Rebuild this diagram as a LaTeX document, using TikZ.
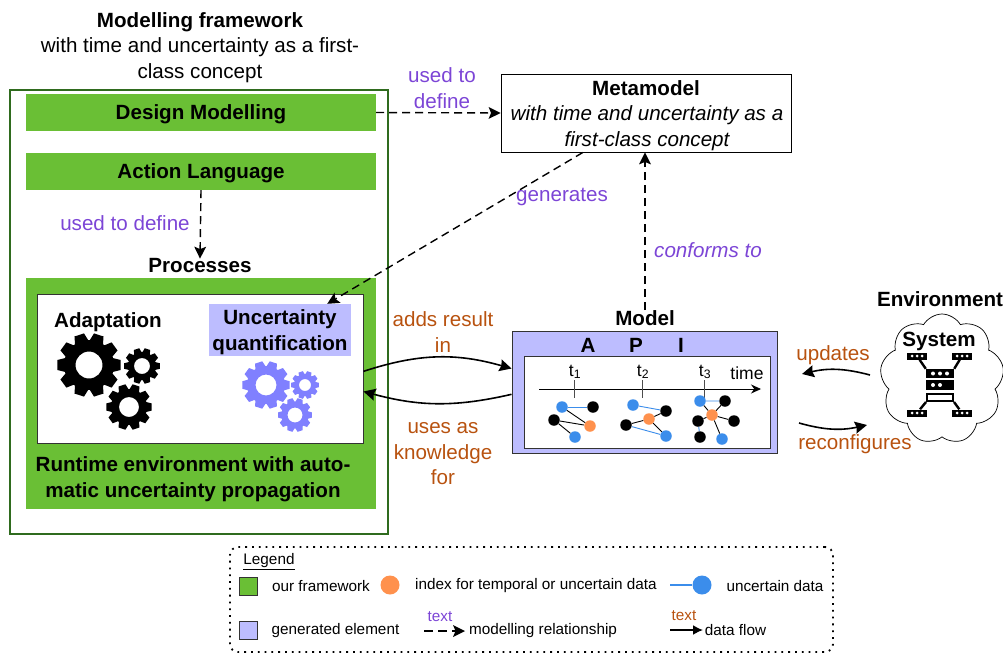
\documentclass[tikz,border=0pt]{standalone}
\usepackage{fontspec}
\setmainfont{Liberation Sans}
\usetikzlibrary{arrows.meta, shapes.symbols}

\definecolor{fwgreen}{HTML}{6ABF35}
\definecolor{fwdark}{HTML}{2F6B1E}
\definecolor{genblue}{HTML}{BDBDFF}
\definecolor{gearblue}{HTML}{8080FF}
\definecolor{relpurple}{HTML}{7C45D6}
\definecolor{flowbrown}{HTML}{B8520F}
\definecolor{indexorange}{HTML}{FF914D}
\definecolor{dotblue}{HTML}{3B8DEB}

% x y outer-radius root-radius hole-radius colour
\newcommand{\gear}[6]{%
    \fill[#6, even odd rule, shift={(#1,#2)}] (-16:#4)
        \foreach \tooth in {0,36,...,324} {
            -- ({\tooth-16}:#4) -- ({\tooth-9}:#3) -- ({\tooth+9}:#3) -- ({\tooth+16}:#4)
        } -- cycle (0,0) circle (#5);
}

\begin{document}
\begin{tikzpicture}[
        x=1pt, y=-1pt,
        txt/.style={font=\fontsize{20.6}{25.5}\selectfont, align=center, inner sep=0pt},
        head/.style={txt, font=\fontsize{20.6}{25.5}\selectfont\bfseries},
        bar/.style={fill=fwgreen, draw=none, inner sep=0pt},
        rel/.style={txt, text=relpurple},
        flowtxt/.style={txt, text=flowbrown},
        legtxt/.style={font=\fontsize{15.3}{17}\selectfont, inner sep=0pt},
        dashrel/.style={line width=1.4pt, dash pattern=on 8pt off 5pt, -{Stealth[inset=2.5pt, length=12pt, width=12pt, line width=0pt, sep=0pt]}},
        flow/.style={line width=1.6pt, -{Stealth[inset=1.5pt, length=12pt, width=12pt]}},
        dot/.style={circle, inner sep=0pt, minimum size=11.5pt},
        black dot/.style={dot, fill=black},
        blue dot/.style={dot, fill=dotblue},
        orange dot/.style={dot, fill=indexorange},
        bline/.style={dotblue, line width=0.9pt},
        kline/.style={black, line width=0.9pt},
        rack/.style={fill=black, draw=none, inner sep=0pt, minimum width=20pt, minimum height=7pt},
        hole/.style={circle, fill=white, inner sep=0pt, minimum size=3pt}
    ]
    \useasboundingbox (0,0) rectangle (1003,653);

    % Modelling framework
    \node[head] (fwtitle) at (200,22) {Modelling framework};
    \node[txt] (fwsub) at (200,60) {with time and uncertainty as a first-\\class concept};
    \node[draw=fwdark, line width=1.3pt, minimum width=378pt, minimum height=444pt, inner sep=0pt] (fw) at (199,312) {};
    \node[bar, minimum width=350pt, minimum height=37pt, head, text height=13pt, text depth=0pt] (design) at (201,112.5) {Design Modelling};
    \node[bar, minimum width=350pt, minimum height=37pt, head, text height=13pt, text depth=0pt] (action) at (201,171.5) {Action Language};
    \node[rel] (define) at (125,223) {used to define};
    \node[head] (processes) at (200,266) {Processes};
    \node[bar, minimum width=350pt, minimum height=231pt] (runtime) at (201,393.5) {};
    \node[head] at (193,479) (rtlabel) {Runtime environment with auto-\\matic uncertainty propagation};
    \node[draw=black!80, line width=0.9pt, fill=white, minimum width=326pt, minimum height=149pt, inner sep=0pt] (inner) at (200,368.5) {};

    % Processes
    \node[head] (adapt) at (108,322) {Adaptation};
    \node[fill=genblue, minimum width=142pt, minimum height=52pt, inner sep=0pt] (uq) at (280,330) {};
    \node[head] (uqtext) at (280,332) {Uncertainty\\quantification};
    \gear{89}{365}{32}{25}{13.5}{black}
    \gear{142}{366}{18}{14}{8}{black}
    \gear{129}{407}{23}{18}{10}{black}
    \gear{266}{385}{24}{19}{10.5}{gearblue}
    \gear{305}{385}{14}{11}{6}{gearblue}
    \gear{295}{415}{17}{13.5}{7.5}{gearblue}

    % Metamodel
    \node[draw, line width=0.9pt, fill=white, minimum width=290pt, minimum height=78pt, inner sep=0pt] (meta) at (646,113) {};
    \node[head] (metatitle) at (646,88.5) {Metamodel};
    \node[txt, font=\fontsize{20.6}{25.5}\selectfont\itshape] (metasub) at (647,128) {with time and uncertainty as a\\first-class concept};
    \node[rel] (usedto) at (442,88) {used to\\define};
    \node[rel] (generates) at (562,196.5) {generates};
    \node[rel, font=\fontsize{20.6}{25.5}\selectfont\itshape] (conforms) at (708,250) {conforms to};

    % Model with API and time line
    \node[head] (modeltitle) at (645,318) {Model};
    \node[draw=black!80, line width=0.9pt, fill=genblue, minimum width=265pt, minimum height=122pt, inner sep=0pt] (api) at (644.5,392) {};
    \node[head] (apia) at (588,345) {A};
    \node[head] (apip) at (636,345) {P};
    \node[head] (apii) at (681,345) {I};
    \node[draw=black!80, line width=0.9pt, fill=white, minimum width=246pt, minimum height=92pt, inner sep=0pt] (timebox) at (647,402) {};
    \coordinate (axisstart) at (539,389);
    \coordinate (axisend) at (761,389);
    \draw[line width=0.9pt, -{Stealth[length=10pt, width=9pt]}] (axisstart) -- (axisend);
    \node[legtxt, font=\fontsize{17.5}{20}\selectfont] (timelabel) at (747,373) {time};
    \foreach \name/\xpos/\lab in {one/574/1, two/642/2, three/704/3} {
        \coordinate (tick\name a) at (\xpos,380);
        \coordinate (tick\name b) at (\xpos,398);
        \draw[black!70, line width=0.9pt] (tick\name a) -- (tick\name b);
        \node[legtxt, font=\fontsize{17.5}{20}\selectfont] (t\name) at (\xpos+1,372) {t\textsubscript{\lab}};
    }

    % Graph at t1
    \node[blue dot] (a1) at (562,407) {};
    \node[black dot] (a2) at (593,407) {};
    \node[black dot] (a3) at (554,420) {};
    \node[orange dot] (a4) at (590,426) {};
    \node[blue dot] (a5) at (575,437) {};
    \draw[bline] (a1) -- (a2);
    \draw[kline] (a1) -- (a4) (a3) -- (a4) (a3) -- (a5);
    % Graph at t2
    \node[blue dot] (b1) at (633,405) {};
    \node[black dot] (b2) at (666,411) {};
    \node[black dot] (b3) at (626,425) {};
    \node[orange dot] (b4) at (649,419) {};
    \node[blue dot] (b5) at (666,436) {};
    \draw[bline] (b1) -- (b2) (b3) -- (b5);
    \draw[kline] (b3) -- (b4) (b4) -- (b2) (b4) -- (b5);
    % Graph at t3
    \node[blue dot] (c1) at (700,401) {};
    \node[black dot] (c2) at (725,401) {};
    \node[orange dot] (c3) at (712,415) {};
    \node[black dot] (c4) at (698,421) {};
    \node[black dot] (c5) at (734,421) {};
    \node[black dot] (c6) at (700,437) {};
    \node[blue dot] (c7) at (722,439) {};
    \draw[bline] (c1) -- (c2) (c4) -- (c6);
    \draw[kline] (c3) -- (c1) (c3) -- (c2) (c3) -- (c4) (c3) -- (c5) (c3) -- (c7);

    % Environment and system
    \node[head] (envtitle) at (940,299) {Environment};
    \node[cloud, cloud puffs=9, cloud puff arc=120, aspect=0.95, draw, line width=0.7pt, minimum width=124pt, minimum height=130pt, inner sep=0pt] (env) at (942,379) {};
    \node[head] (system) at (939,341) {System};
    \node[rack] (r1) at (917,356) {};
    \node[rack] (r2) at (962,356) {};
    \node[rack] (r3) at (917,413) {};
    \node[rack] (r4) at (962,413) {};
    \node[rack, minimum width=28pt, minimum height=9pt] (s1) at (940,373.5) {};
    \node[rack, minimum width=28pt, minimum height=10pt] (s2) at (940,385) {};
    \node[draw, line width=2pt, fill=white, minimum width=26pt, minimum height=7pt, inner sep=0pt] (s3) at (940,397.5) {};
    \draw[line width=2.4pt] (r1) -- (s1.north west) (r2) -- (s1.north east) (r3) -- (s3.south west) (r4) -- (s3.south east);
    \foreach \rk in {r1,r2,r3,r4} {
        \foreach \off in {-5,0,5} {
            \node[hole] at ([xshift=\off pt]\rk) {};
        }
    }
    \foreach \off in {-7,0,7} {
        \node[hole, minimum size=4pt] at ([xshift=\off pt]s1) {};
    }
    \foreach \off in {-7,0} {
        \node[hole, minimum size=4pt] at ([xshift=\off pt]s2) {};
    }

    % Modelling relationships
    \draw[dashrel] (design.east) -- (meta.west);
    \draw[dashrel] (action.south) -- (processes.north);
    \draw[dashrel] (meta.212) -- (uq.29);
    \draw[dashrel] (modeltitle.north) -- (meta.south -| modeltitle.north);

    % Data flow
    \node[flowtxt] (adds) at (443,332) {adds result\\in};
    \node[flowtxt] (uses) at (443,454) {uses as\\knowledge\\for};
    \node[flowtxt] (updates) at (833,355) {updates};
    \node[flowtxt] (reconf) at (855,444) {reconfigures};
    \coordinate (updstart) at (870,375);
    \coordinate (updend) at (802,374);
    \coordinate (recstart) at (799,423);
    \coordinate (recend) at (867,425);
    \draw[flow] (inner.-1) to[bend left=17] (api.170);
    \draw[flow] (api.181) to[bend left=14] (inner.-8);
    \draw[flow] (updstart) to[bend right=14] (updend);
    \draw[flow] (recstart) to[bend right=14] (recend);

    % Legend
    \node[draw, dash pattern=on 1.8pt off 5pt, line width=1.8pt, rounded corners=8pt, minimum width=603pt, minimum height=105pt, inner sep=0pt] (legend) at (531.5,599.5) {};
    \node[legtxt] (legtitle) at (269,562) {\underline{Legend}};
    \node[draw=black!80, line width=0.9pt, fill=fwgreen, minimum size=18pt, inner sep=0pt] (legfw) at (248,586) {};
    \node[legtxt] (legfwtxt) at (321,586) {our framework};
    \node[orange dot, minimum size=19pt] (legidx) at (390,585) {};
    \node[legtxt] (legidxtxt) at (536,585.5) {index for temporal or uncertain data};
    \node[blue dot, minimum size=19pt] (legunc) at (702,585) {};
    \coordinate (leglinestart) at (670,585);
    \draw[dotblue, line width=1.3pt] (leglinestart) -- (legunc);
    \node[legtxt] (legunctxt) at (775,586) {uncertain data};
    \node[draw=black!80, line width=0.9pt, fill=genblue, minimum size=18pt, inner sep=0pt] (leggen) at (248,630) {};
    \node[legtxt] (leggentxt) at (335.5,630.5) {generated element};
    \node[legtxt, text=relpurple] (legtxta) at (440,617) {text};
    \coordinate (legrelstart) at (424,631);
    \coordinate (legrelend) at (465,631);
    \draw[dashrel, dash pattern=on 9pt off 5pt] (legrelstart) -- (legrelend);
    \node[legtxt] (legreltxt) at (543,630.5) {modelling relationship};
    \node[legtxt, text=flowbrown] (legtxtb) at (684,616) {text};
    \coordinate (legflowstart) at (670,630);
    \coordinate (legflowend) at (703,630);
    \draw[line width=1.7pt, -{Latex[length=10pt, width=10pt]}] (legflowstart) -- (legflowend);
    \node[legtxt] (legflowtxt) at (735.5,630.5) {data flow};
\end{tikzpicture}
\end{document}
